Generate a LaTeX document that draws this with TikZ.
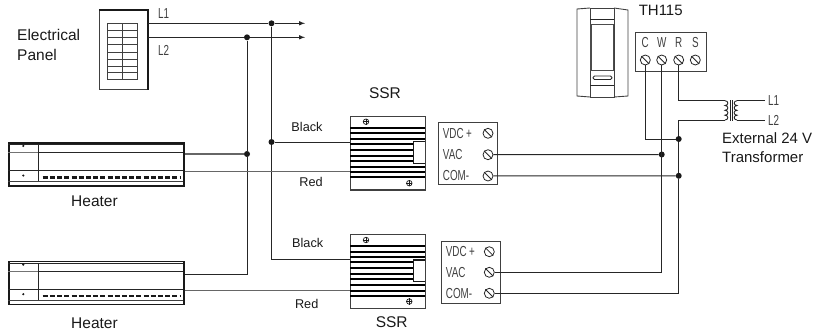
\documentclass[tikz,border=0pt]{standalone}
\usepackage{fontspec}
\setmainfont{Liberation Sans}
\usetikzlibrary{positioning}

\newcommand{\slim}[1]{\scalebox{.68}[1]{#1}}

\tikzset{
  wire/.style={draw=black!85, line width=1pt},
  pale/.style={draw=black!60, line width=1.1pt},
  dot/.style={circle, fill=black!90, inner sep=0pt, minimum size=6pt},
  screw/.style={circle, draw=black!85, line width=0.8pt, inner sep=0pt, minimum size=10pt},
  box/.style={draw=black!75, line width=1pt, inner sep=0pt},
  bigtext/.style={font=\fontsize{15.5}{18}\selectfont, text=black!90, inner sep=0pt},
  midtext/.style={font=\fontsize{12.7}{15}\selectfont, text=black!90, inner sep=0pt},
  smalltext/.style={font=\fontsize{14.5}{15}\selectfont, text=black!75, inner sep=0pt}
}

\begin{document}
\begin{tikzpicture}[x=1pt, y=-1pt]
    \useasboundingbox (0,0) rectangle (816,330);

    % Panel
    \node[box, minimum width=48.5pt, minimum height=79pt] (panel) at (123.7,49.5) {};
    \draw[line width=2pt, black!90] (panel.north west) -- (panel.north east) -- (panel.south east);
    \draw[black!75, line width=0.8pt] (107,23) rectangle (137,79) (122.5,23) -- (122.5,79);
    \foreach \y in {30,37,44,52,59,66,72} {
      \draw[black!75, line width=0.8pt] (107,\y) -- (137,\y);
    }
    \node[bigtext, anchor=west] (panelA) at (17,35) {Electrical};
    \node[bigtext, anchor=west] (panelB) at (17,55) {Panel};
    \node[smalltext, anchor=west] (lineA) at (158,14) {\slim{L1}};
    \node[smalltext, anchor=west] (lineB) at (158,50) {\slim{L2}};

    % Heaters
    \foreach \n/\y/\t in {heaterA/142/201.7, heaterB/260.7/323} {
      \node[box, line width=1.5pt, draw=black!90, minimum width=174.7pt, minimum height=43pt, anchor=north west] (\n) at (8.3,\y) {};
      \draw[black!85, line width=0.9pt] (8.3,\y+2.7) -- (183,\y+2.7);
      \draw[black!85, line width=1.1pt] (38.5,\y+10.7) -- (183,\y+10.7);
      \draw[black!55, line width=0.9pt] (8.3,\y+10.7) -- (38.5,\y+10.7);
      \draw[black!85, line width=0.9pt] (8.3,\y+28.7) -- (183,\y+28.7);
      \draw[black!85, line width=0.9pt] (38.5,\y+2.7) -- (38.5,\y+39.7);
      \draw[black!75, line width=0.9pt] (8.3,\y+39.7) -- (183,\y+39.7);
      \draw[black!90, line width=2.4pt, dash pattern=on 5pt off 2.2pt] (42.7,\y+35.3) -- (180,\y+35.3);
      \fill[black!90] (23.3,\y+3.9) circle (1.2pt) (23.3,\y+33.5) circle (1.2pt);
      \node[bigtext] (\n text) at (94.5,\t) {Heater};
    }

    % SSR
    \foreach \n/\y in {ssrA/115.7, ssrB/234} {
      \node[box, line width=1.2pt, minimum width=75pt, minimum height=73.6pt, anchor=north west] (\n) at (350,\y) {};
      \foreach \f in {12,17.6,23.3,28.3,34,40,45,51,56.6,61.6} {
        \draw[black, line width=1.9pt] (350,\y+\f) -- (425,\y+\f);
      }
      \draw[black!90, line width=1.1pt, fill=white] (425,\y+26) -- (413.3,\y+26) -- (413.3,\y+47.6) -- (425,\y+47.6);
      \node[circle, draw=black!90, line width=0.7pt, inner sep=0pt, minimum size=5.5pt] (\n top) at (366,\y+6) {};
      \node[circle, draw=black!90, line width=0.7pt, inner sep=0pt, minimum size=5.5pt] (\n low) at (409.3,\y+67.5) {};
      \draw[black!90, line width=0.7pt] (\n top.north) -- (\n top.south) (\n top.west) -- (\n top.east) (\n low.north) -- (\n low.south) (\n low.west) -- (\n low.east);
    }
    \node[bigtext] (ssrAtext) at (385,93) {SSR};
    \node[bigtext] (ssrBtext) at (391.7,322) {SSR};

    % Terminal blocks
    \foreach \n/\x/\y/\s/\a/\b/\c in {termA/437.7/122.3/488/133.3/154.7/176, termB/440.7/240.7/489.3/251.7/272.3/293.3} {
      \node[box, minimum width=59.2pt, minimum height=62pt, anchor=north west] (\n) at (\x,\y) {};
      \node[screw] (\n dc) at (\s,\a) {};
      \node[screw] (\n vac) at (\s,\b) {};
      \node[screw] (\n com) at (\s,\c) {};
      \foreach \m in {dc,vac,com} {
        \draw[black!85, line width=0.8pt] (\n \m.135) -- (\n \m.-45);
      }
      \node[smalltext, anchor=west] (\n dctext) at (\x+5,\a) {\slim{VDC}\,\raisebox{-.3pt}{\slim{+}}};
      \node[smalltext, anchor=west] (\n vactext) at (\x+5,\b) {\slim{VAC}};
      \node[smalltext, anchor=west] (\n comtext) at (\x+5,\c) {\slim{COM-}};
    }

    % Thermostat
    \node[draw=black!75, line width=0.9pt, inner sep=0pt, minimum width=24pt, minimum height=89pt] (stat) at (602,52.5) {};
    \draw[black!75, line width=0.9pt] (590,8) -- (577,9) -- (577,96) -- (590,97);
    \draw[black!75, line width=0.9pt] (614,8) -- (628,10) -- (628,96) -- (614,97);
    \draw[black!85, line width=1.9pt] (590,19.5) -- (614,19.5) (590,85.5) -- (614,85.5);
    \draw[black!70, line width=1.1pt] (591,24.5) rectangle (613.3,70.7);
    \draw[black!85, line width=0.9pt, rounded corners=1.5pt] (593,76) rectangle (612,79.5);

    % TH115 block
    \node[box, minimum width=70.7pt, minimum height=39.3pt, anchor=north west] (block) at (635.3,32) {};
    \node[bigtext, font=\fontsize{15}{17}\selectfont] (blocktext) at (660.7,10.5) {TH115};
    \foreach \n/\x/\t in {C/645.3/C, W/661.7/W, R/678.7/R, S/695.3/S} {
      \node[screw] (scr\n) at (\x,60) {};
      \draw[black!85, line width=0.8pt] (scr\n.135) -- (scr\n.-45);
      \node[smalltext] (lab\n) at (\x,42.5) {\slim{\t}};
    }

    % Junctions
    \node[dot] (jLA) at (271.5,23.3) {};
    \node[dot] (jLB) at (247,37.3) {};
    \node[dot] (jHeat) at (247,154) {};
    \node[dot] (jBlack) at (271.5,142) {};
    \node[dot] (jVac) at (661.7,154.5) {};
    \node[dot] (jCom) at (678.7,175.8) {};
    \node[dot] (jCom top) at (678.7,139) {};

    % Coordinates of free ends and corners
    \coordinate (endA) at (305,23.3);
    \coordinate (endB) at (305,37.3);
    \coordinate (cornerA) at (271.5,259.7);
    \coordinate (cornerB) at (247,274.3);
    \coordinate (cornerC) at (645.3,139);
    \coordinate (cornerD) at (661.7,272.3);
    \coordinate (cornerE) at (678.7,293.3);
    \coordinate (cornerF) at (678.7,100.7);
    \coordinate (cornerG) at (678.7,120);
    \coordinate (priA) at (725,100.7);
    \coordinate (priB) at (725,120);
    \coordinate (secA) at (737,100.7);
    \coordinate (secB) at (737,120);
    \coordinate (outA) at (765,100.7);
    \coordinate (outB) at (765,120);

    % Draw wires
    \draw[wire, -latex] (panel.east |- jLA) -- (jLA) -- (endA);
    \draw[wire, -latex] (panel.east |- jLB) -- (jLB) -- (endB);
    \draw[wire] (jLA) -- (jBlack) -- (cornerA) -- (ssrB.west |- cornerA);
    \draw[wire] (jBlack) -- (ssrA.west |- jBlack);
    \draw[wire] (jLB) -- (jHeat) -- (cornerB) -- (heaterB.east |- cornerB);
    \draw[pale] (jHeat) -- (heaterA.east |- jHeat);
    \draw[pale] (heaterA.east |- 0,171.7) -- (ssrA.west |- 0,171.7);
    \draw[pale] (heaterB.east |- 0,290.7) -- (ssrB.west |- 0,290.7);
    \draw[wire] (termAvac) -- (jVac);
    \draw[wire] (termAcom) -- (jCom);
    \draw[wire] (termBvac) -- (cornerD) -- (scrW);
    \draw[wire] (termBcom) -- (cornerE) -- (jCom) -- (jCom top) -- (cornerG) -- (priB);
    \draw[wire] (scrC) -- (cornerC) -- (jCom top);
    \draw[wire] (scrR) -- (cornerF) -- (priA);
    \draw[wire] (secA) -- (outA);
    \draw[wire] (secB) -- (outB);

    % Transformer
    \draw[wire, line width=0.9pt] (priA) to[out=0,in=0,looseness=2] (725,105.5) to[out=0,in=0,looseness=2] (725,110.3) to[out=0,in=0,looseness=2] (725,115.2) to[out=0,in=0,looseness=2] (priB);
    \draw[wire, line width=0.9pt] (secA) to[out=180,in=180,looseness=2] (737,105.5) to[out=180,in=180,looseness=2] (737,110.3) to[out=180,in=180,looseness=2] (737,115.2) to[out=180,in=180,looseness=2] (secB);
    \draw[black!85, line width=0.9pt] (730.2,100) -- (730.2,121) (732.2,100) -- (732.2,121);
    \node[smalltext, anchor=west] (outAtext) at (768,101) {\slim{L1}};
    \node[smalltext, anchor=west] (outBtext) at (768,120.5) {\slim{L2}};
    \node[bigtext, anchor=west, font=\fontsize{15}{17}\selectfont] (extA) at (722,138.5) {External 24 V};
    \node[bigtext, anchor=west, font=\fontsize{15}{17}\selectfont] (extB) at (722,157.5) {Transformer};

    % Wire colours
    \node[midtext] (blackA) at (307,127) {Black};
    \node[midtext] (redA) at (311,182) {Red};
    \node[midtext] (blackB) at (307.7,243) {Black};
    \node[midtext] (redB) at (306.7,304) {Red};
  \end{tikzpicture}
\end{document}
